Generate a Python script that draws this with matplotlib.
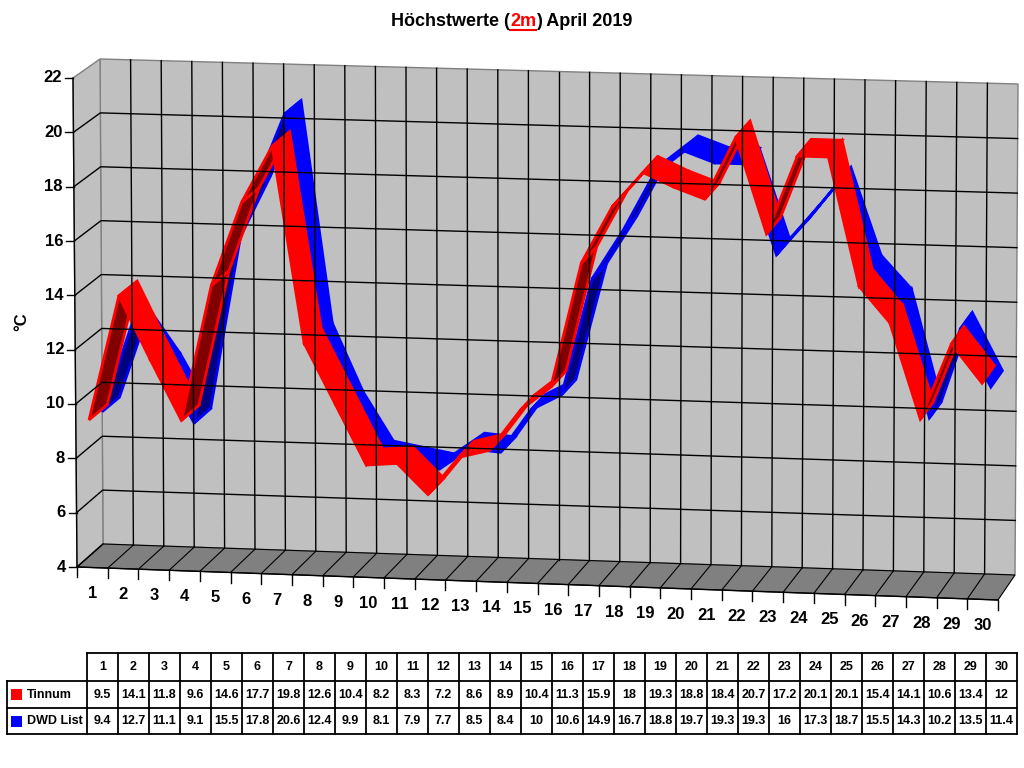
"""Hoechstwerte April 2019 - pseudo 3D ribbon chart with data table (Excel style)."""

import numpy as np
import matplotlib.pyplot as plt
from matplotlib.patches import Polygon, Rectangle

plt.rcParams['font.family'] = ['Liberation Sans', 'DejaVu Sans']
plt.rcParams['font.weight'] = 'bold'

# ------------------------------
# Data
# ------------------------------

days = list(range(1, 31))
tinnum = [9.5, 14.1, 11.8, 9.6, 14.6, 17.7, 19.8, 12.6, 10.4, 8.2, 8.3, 7.2, 8.6, 8.9, 10.4,
          11.3, 15.9, 18, 19.3, 18.8, 18.4, 20.7, 17.2, 20.1, 20.1, 15.4, 14.1, 10.6, 13.4, 12]
dwd = [9.4, 12.7, 11.1, 9.1, 15.5, 17.8, 20.6, 12.4, 9.9, 8.1, 7.9, 7.7, 8.5, 8.4, 10,
       10.6, 14.9, 16.7, 18.8, 19.7, 19.3, 19.3, 16, 17.3, 18.7, 15.5, 14.3, 10.2, 13.5, 11.4]
series_names = ["Tinnum", "DWD List"]
series_colors = ["#FF0000", "#0000FF"]
series_dark = ["#800000", "#000080"]
y_ticks = [4, 6, 8, 10, 12, 14, 16, 18, 20, 22]
ymin, ymax = 4, 22

# ------------------------------
# Pseudo-3D projection (pixel space)
# corners: (front/back, bottom/top, left/right)
# ------------------------------

F_BL, F_TL, F_BR, F_TR = (77, 567), (73, 78), (998, 600), (1000, 109)
B_BL, B_TL, B_BR, B_TR = (103, 544), (100, 59), (1015, 575), (1018, 84)


def bilin(u, v, bl, tl, br, tr):
    bl, tl, br, tr = map(np.asarray, (bl, tl, br, tr))
    u = np.asarray(u, float)[..., None]
    v = np.asarray(v, float)[..., None]
    bottom = bl + (br - bl) * u
    top = tl + (tr - tl) * u
    return bottom + (top - bottom) * v


def proj(u, v, z):
    f = bilin(u, v, F_BL, F_TL, F_BR, F_TR)
    b = bilin(u, v, B_BL, B_TL, B_BR, B_TR)
    return f + (b - f) * z


fig = plt.figure(figsize=(10.24, 7.68), dpi=100)
ax = fig.add_axes([0, 0, 1, 1])
ax.set_xlim(0, 1024)
ax.set_ylim(768, 0)
ax.axis("off")

n = len(days)
wall = "#C0C0C0"
edge = "#808080"

# walls and floor
ax.add_patch(Polygon([proj(0, 0, 1), proj(0, 1, 1), proj(1, 1, 1), proj(1, 0, 1)],
                     fc=wall, ec=edge, lw=1))
ax.add_patch(Polygon([proj(0, 0, 0), proj(0, 1, 0), proj(0, 1, 1), proj(0, 0, 1)],
                     fc=wall, ec=edge, lw=1))
ax.add_patch(Polygon([proj(0, 0, 0), proj(1, 0, 0), proj(1, 0, 1), proj(0, 0, 1)],
                     fc=edge, ec="black", lw=0.8))

# grid lines
for k in range(1, n):
    u = k / n
    p = np.array([proj(u, 0, 1), proj(u, 1, 1)])
    ax.plot(p[:, 0], p[:, 1], color="black", lw=1)
    p = np.array([proj(u, 0, 0), proj(u, 0, 1)])
    ax.plot(p[:, 0], p[:, 1], color="black", lw=0.8)
for t in y_ticks[1:-1]:
    v = (t - ymin) / (ymax - ymin)
    p = np.array([proj(0, v, 0), proj(0, v, 1), proj(1, v, 1)])
    ax.plot(p[:, 0], p[:, 1], color="black", lw=1)
p = np.array([proj(0, 0, 0), proj(0, 0, 1)])
ax.plot(p[:, 0], p[:, 1], color="black", lw=1)

# ------------------------------
# Ribbons (DWD behind, Tinnum in front)
# ------------------------------

depths = [(-0.08, 0.62), (0.42, 1.08)]
u_pts = (np.arange(n) + 0.5) / n
for idx in [1, 0]:
    vals = [tinnum, dwd][idx]
    v_pts = (np.array(vals) - ymin) / (ymax - ymin)
    z0, z1 = depths[idx]
    f = proj(u_pts, v_pts, z0)
    b = proj(u_pts, v_pts, z1)
    for i in range(n - 1):
        s = f[i + 1] - f[i]
        e = b[i] - f[i]
        facing = -s[0] * e[1] + s[1] * e[0]
        col = series_colors[idx] if facing > 0 else series_dark[idx]
        ax.add_patch(Polygon([f[i], f[i + 1], b[i + 1], b[i]], closed=True,
                             fc=col, ec=series_colors[idx], lw=2.0, joinstyle="miter"))

# ------------------------------
# Axes: value axis and category axis
# ------------------------------

p = np.array([proj(0, 0, 0), proj(0, 1, 0)])
ax.plot(p[:, 0], p[:, 1], color="black", lw=1)
for t in y_ticks:
    x, y = proj(0, (t - ymin) / (ymax - ymin), 0)
    ax.plot([x - 8, x], [y, y], color="black", lw=1)
    ax.text(x - 11, y, str(t), ha="right", va="center", fontsize=12, fontweight="bold")

p = np.array([proj(0, 0, 0), proj(1, 0, 0)])
ax.plot(p[:, 0], p[:, 1], color="black", lw=1)
for k in range(n + 1):
    x, y = proj(k / n, 0, 0)
    ax.plot([x, x], [y, y + 10], color="black", lw=1)
for i, d in enumerate(days):
    x, y = proj(u_pts[i], 0, 0)
    ax.text(x, y + 26, str(d), ha="center", va="center", fontsize=12, fontweight="bold")

ax.text(22, 322, "°C", rotation=90, ha="center", va="center", fontsize=12, fontweight="bold")

# ------------------------------
# Title with red underlined "2m"
# ------------------------------

parts = [("Höchstwerte (", "black"), ("2m", "#FF0000"), (") April 2019", "black")]
texts = [ax.text(0, 21, s, color=c, ha="left", va="center", fontsize=13, fontweight="bold")
         for s, c in parts]
fig.canvas.draw()
r = fig.canvas.get_renderer()
widths = [t.get_window_extent(r).width for t in texts]
x0 = 512 - sum(widths) / 2
for t, w in zip(texts, widths):
    t.set_x(x0)
    x0 += w
x_ul = texts[1].get_position()[0]
ax.plot([x_ul, x_ul + widths[1]], [30, 30], color="#FF0000", lw=1.5)

# ------------------------------
# Data table
# ------------------------------

col0, cw = 87, 31
lab_x0 = 7
rows_y = [653, 681, 708, 734]
x_right = col0 + cw * n
ax.plot([col0, x_right], [rows_y[0]] * 2, color="black", lw=1.3)
for y in rows_y[1:]:
    ax.plot([lab_x0, x_right], [y, y], color="black", lw=1.3)
ax.plot([lab_x0, lab_x0], [rows_y[1], rows_y[3]], color="black", lw=1.3)
for k in range(n + 1):
    xk = col0 + cw * k
    ax.plot([xk, xk], [rows_y[0], rows_y[3]], color="black", lw=1.3)

for i, d in enumerate(days):
    xc = col0 + cw * (i + 0.5)
    ax.text(xc, (rows_y[0] + rows_y[1]) / 2, str(d), ha="center", va="center",
            fontsize=9, fontweight="bold")
    for r_i, vals in enumerate([tinnum, dwd]):
        yc = (rows_y[r_i + 1] + rows_y[r_i + 2]) / 2
        ax.text(xc, yc, f"{vals[i]:g}", ha="center", va="center", fontsize=9,
                fontweight="bold")

for r_i, name in enumerate(series_names):
    yc = (rows_y[r_i + 1] + rows_y[r_i + 2]) / 2
    ax.add_patch(Rectangle((11, yc - 5.5), 11, 11, fc=series_colors[r_i], ec="none"))
    ax.text(27, yc, name, ha="left", va="center", fontsize=9, fontweight="bold")

plt.savefig("out.png", dpi=100)
